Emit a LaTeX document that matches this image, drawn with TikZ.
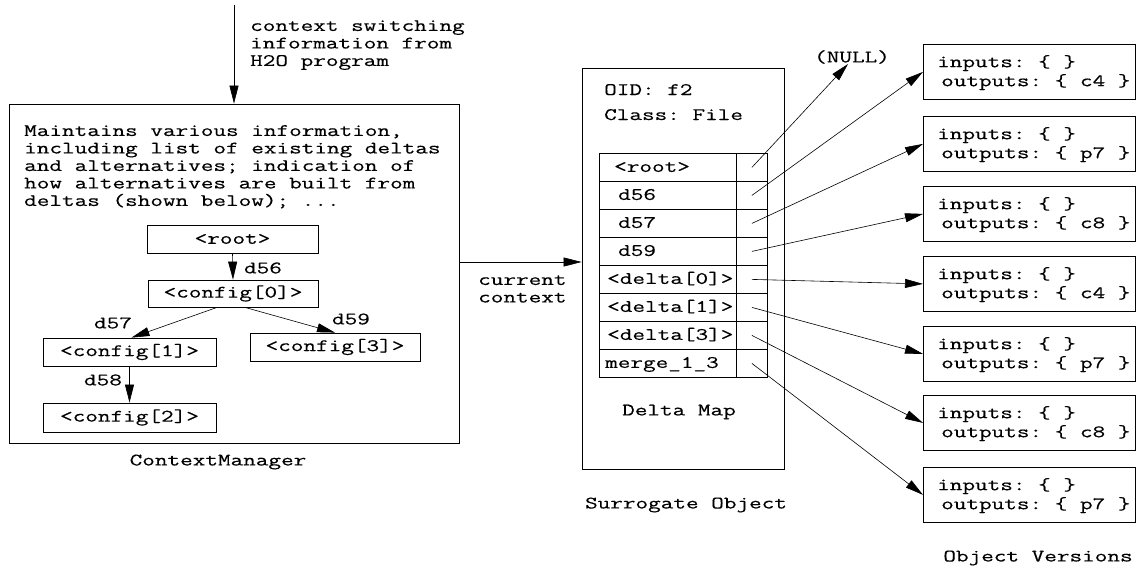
\documentclass[tikz,border=0pt]{standalone}
\usepackage{fontspec}
\setmonofont[FakeStretch=1.40,FakeBold=0.4]{Latin Modern Mono}
\usetikzlibrary{arrows.meta,calc}
\tikzset{
  tt/.style={font=\ttfamily\fontsize{17.5}{17.5}\selectfont, inner sep=0pt},
  ttv/.style={font=\ttfamily\fontsize{17.5}{19}\selectfont, inner sep=0pt},
  box/.style={draw, line width=0.8pt, inner sep=0pt},
  cfg/.style={box, tt, minimum height=28pt},
  arr/.style={line width=0.6pt, -{Triangle[length=18pt,width=9pt]}},
}
\begin{document}
\begin{tikzpicture}[x=1pt,y=-1pt]
\useasboundingbox (0,0) rectangle (1137,570);

% ---------- Context manager ----------
\node[box, minimum width=450pt, minimum height=339pt] (cm) at (234,273.5) {};
\coordinate (src) at (234,5);
\draw[arr] (src) -- (cm.north);
\node[tt, align=left, anchor=north west] (ctxt) at (250,18.5)
  {\strut context switching\\information from\\H2O program};
\node[tt, align=left, anchor=north west] (info) at (24,123.5)
  {\strut Maintains various information,\\including list of existing deltas\\and alternatives; indication of\\how alternatives are built from\\deltas (shown below); ...};

\node[cfg, minimum width=171pt] (root) at (232.5,239) {<root>};
\node[cfg, minimum width=170pt, minimum height=27pt] (c0) at (233,293.5) {<config[0]>};
\node[cfg, minimum width=173pt] (c1) at (129.5,352) {<config[1]>};
\node[cfg, minimum width=170pt] (c3) at (335,347) {<config[3]>};
\node[cfg, minimum width=173pt, minimum height=29pt] (c2) at (129.5,417.5) {<config[2]>};

\draw[arr] (root.south) -- (c0.north);
\draw[arr] ([xshift=-16pt]c0.south) -- ([xshift=2pt]c1.north);
\draw[arr] ([xshift=12pt]c0.south) -- (c3.north);
\draw[arr] (c1.south) -- (c2.north);

\node[tt] (l56) at (263,268) {d56};
\node[tt] (l57) at (113,323) {d57};
\node[tt] (l59) at (351,319) {d59};
\node[tt] (l58) at (103,380) {d58};

\node[tt] (cmlab) at (218,462) {ContextManager};

% ---------- Surrogate object ----------
\node[box, minimum width=202pt, minimum height=401pt] (so) at (683,268.5) {};
\draw[arr] ([yshift=11.5pt]cm.east) -- ([yshift=6.5pt]so.west);
\node[tt, align=left, anchor=north west] (cur) at (478,272.5) {\strut current\\context};

\node[tt, anchor=base west] (oid) at (604,95) {OID: f2};
\node[tt, anchor=base west] (cls) at (604,120) {Class: File};

\foreach \i/\lab/\dx in {1/{<root>}/15, 2/d56/19, 3/d57/19, 4/d59/19,
    5/{<delta[0]>}/8, 6/{<delta[1]>}/8, 7/{<delta[3]>}/8, 8/merge\_1\_3/6} {
  \pgfmathsetmacro{\ty}{153+28*(\i-1)}
  \node[box, minimum width=137pt, minimum height=28pt, anchor=north west] (l\i) at (599,\ty) {};
  \node[box, minimum width=31pt, minimum height=28pt, anchor=north west] (r\i) at (736,\ty) {};
  \node[tt, anchor=base west] (t\i) at ([xshift=\dx pt,yshift=-4.5pt]l\i.west) {\lab};
}

\node[tt] (dm) at (679,412) {Delta Map};
\node[tt] (solab) at (686,505) {Surrogate Object};

% ---------- Object versions ----------
\node[tt] (null) at (852,57) {(NULL)};
\draw[arr] (r1.center) -- ([xshift=-4pt]null.south);

\foreach \i/\tp/\vo in {1/44/c4, 2/116/p7, 3/186/c8, 4/256/c4, 5/326/p7, 6/395/c8, 7/467/p7} {
  \node[box, minimum width=212pt, minimum height=55pt, anchor=north west] (v\i) at (923,\tp) {};
  \node[ttv, align=left, anchor=north west] (vt\i) at ([xshift=14pt,yshift=-9.7pt]v\i.north west)
    {\strut inputs: \{ \}\\\hspace*{4pt}outputs: \{ \vo\ \}};
}
\draw[arr] (r2.center) -- (v1.west);
\draw[arr] (r3.center) -- (v2.west);
\draw[arr] (r4.center) -- (v3.west);
\draw[arr] (r5.center) -- (v4.west);
\draw[arr] (r6.center) -- (v5.west);
\draw[arr] (r7.center) -- (v6.west);
\draw[arr] (r8.center) -- (v7.west);

\node[tt] (ovlab) at (1038,558) {Object Versions};
\end{tikzpicture}
\end{document}
